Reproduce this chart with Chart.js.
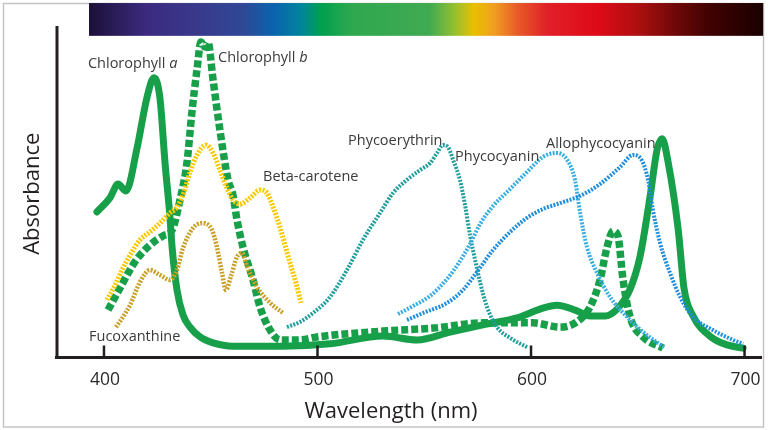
<!DOCTYPE html>
<html>
<head>
<meta charset="utf-8">
<script src="https://cdn.jsdelivr.net/npm/chart.js@4.4.0/dist/chart.umd.min.js"></script>
<style>
  html, body { margin: 0; padding: 0; background: #ffffff; }
  #wrap { width: 768px; height: 430px; }
</style>
</head>
<body>
<div id="wrap"><canvas id="c" width="768" height="430"></canvas></div>
<script>
// ---- data (wavelength nm, relative absorbance) ----
const chlAWl  = [396.7,402.8,406.6,410.3,415.5,420.1,423.4,426.2,428.6,430.9,431.9,434.2,437.0,440.3,445.0,451.1,460.4,483.8,505.9,530.7,546.6,562.1,577.5,593.4,604.2,612.2,620.6,627.6,634.7,640.3,646.4,651.1,655.8,659.1,661.4,664.2,668.9,671.7,675.9,684.3,691.8,699.3];
const chlAAbs = [43.9,48.2,52.4,50.3,63.4,78.7,84.8,78.7,58.8,42.4,33.2,20.1,12.5,8.8,5.8,4.0,3.0,3.0,3.7,6.1,4.9,7.3,9.5,11.6,14.3,15.5,14.0,12.2,12.2,14.3,20.4,30.5,48.8,63.1,66.2,59.1,38.7,20.4,12.2,5.8,3.4,2.4];

const chlBWl  = [401.9,407.5,414.5,421.5,427.6,431.9,435.6,438.9,441.2,443.6,445.4,447.3,448.7,451.1,454.3,458.1,460.4,462.3,465.1,469.8,473.1,477.8,482.5,491.8,499.8,530.7,554.1,577.5,600.9,613.6,621.5,627.6,632.3,635.6,638.4,640.7,643.1,646.4,652.5,661.8];
const chlBAbs = [14.0,20.7,28.7,33.8,36.6,38.4,47.6,59.1,74.4,87.5,95.7,94.2,95.7,84.1,68.9,53.7,49.1,41.5,33.2,23.2,14.9,7.9,4.9,4.9,5.8,7.6,8.5,10.1,10.1,8.8,10.4,14.9,23.2,33.2,38.1,36.6,23.2,11.9,5.8,2.4];

const betaWl  = [401.4,405.2,408.9,413.1,416.9,421.5,426.2,430.9,434.2,437.5,440.3,443.6,447.8,451.1,454.3,457.6,460.4,463.7,468.4,473.1,476.3,479.2,482.4,484.8,487.1,489.9,492.3];
const betaAbs = [17.1,21.6,26.8,31.7,35.4,37.8,40.5,43.6,45.4,50.0,56.1,61.3,64.3,61.9,56.7,51.2,47.6,46.3,48.2,50.6,49.7,45.4,39.3,33.8,28.4,22.3,16.2];

const fucoWl  = [405.6,408.9,412.2,416.9,421.5,426.2,430.9,434.2,437.0,441.7,445.9,450.6,452.9,455.3,457.1,459.5,462.3,464.6,467.0,471.7,477.8,483.8];
const fucoAbs = [8.8,11.9,15.5,22.6,26.2,24.7,23.2,26.2,32.9,39.0,40.5,38.4,33.2,25.3,20.1,24.4,30.2,31.4,27.4,21.0,16.2,13.1];

const pheWl   = [485.7,491.8,497.9,505.9,513.8,521.3,529.3,535.4,541.9,548.0,552.7,556.0,558.8,561.1,563.5,566.7,569.1,571.4,573.8,576.1,579.4,584.1,590.2,598.1];
const pheAbs  = [8.8,10.4,13.1,18.0,26.2,35.4,43.6,49.7,53.7,56.7,58.8,61.9,64.3,63.7,59.8,53.7,46.0,36.9,29.3,22.6,14.9,8.8,5.5,2.7];

const pcWl    = [537.7,544.7,552.7,560.7,566.7,571.4,576.1,582.2,590.2,598.1,605.6,612.2,616.9,620.6,623.0,626.2,630.9,637.0,645.0,652.5,662.8];
const pcAbs   = [12.8,15.2,18.3,23.5,28.9,34.1,40.2,45.7,50.9,56.1,60.7,61.9,59.8,53.7,43.6,33.2,25.3,18.0,11.9,7.3,2.4];

const apcWl   = [541.9,549.4,560.7,568.1,574.7,582.2,590.2,598.1,605.6,613.6,622.9,632.3,641.7,647.8,652.0,654.8,657.1,660.4,665.1,669.8,675.9,685.2,694.6,699.3];
const apcAbs  = [11.0,13.1,16.2,20.1,25.6,32.3,37.8,42.1,44.8,46.6,48.8,52.4,57.6,61.3,59.5,53.7,44.5,34.5,25.3,18.0,11.9,7.9,4.9,3.7];

const tickValues = [400, 500, 600, 700];
const tickLabels = ["400", "500", "600", "700"];

const curveLabels  = ["Chlorophyll ", "Chlorophyll ", "Beta-carotene", "Phycoerythrin", "Phycocyanin", "Allophycocyanin", "Fucoxanthine"];
const curveItalics = ["a", "b", "", "", "", "", ""];
const labelWl      = [392.5, 453.4, 474.5, 514.3, 564.4, 607.0, 393.0];
const labelAbs     = [87.8, 89.5, 53.2, 64.3, 59.3, 63.4, 4.6];

const xTitle = "Wavelength (nm)";
const yTitle = "Absorbance";

// spectrum strip (wavelength range and absorbance band above plot)
const stripWl  = [393.0, 708.7];
const stripAbs = [97.6, 107.6];

// ---- helpers ----
function pts(xs, ys) { return xs.map((x, i) => ({ x: x, y: ys[i] })); }

const GREEN = '#17a049';
const FONT = '"Open Sans", "Noto Sans", sans-serif';

const decor = {
  id: 'decor',
  beforeDraw(chart) {
    const ctx = chart.ctx;
    const xs = chart.scales.x, ys = chart.scales.y;
    ctx.save();
    ctx.fillStyle = '#ffffff';
    ctx.fillRect(0, 0, chart.width, chart.height);
    // outer frame
    ctx.strokeStyle = '#c4c4c4';
    ctx.lineWidth = 1.5;
    ctx.strokeRect(3.5, 3.5, 760, 423.5);
    // spectrum strip
    const x0 = xs.getPixelForValue(stripWl[0]), x1 = xs.getPixelForValue(stripWl[1]);
    const y0 = ys.getPixelForValue(stripAbs[1]), y1 = ys.getPixelForValue(stripAbs[0]);
    const g = ctx.createLinearGradient(x0, 0, x1, 0);
    const stops = [
      [0.00, '#1c1038'], [0.084, '#3b2a7e'], [0.156, '#39388b'], [0.229, '#2f4896'],
      [0.273, '#0a62ae'], [0.316, '#00869a'], [0.345, '#00a04e'], [0.389, '#2fa84f'],
      [0.505, '#40aa52'], [0.542, '#93bf30'], [0.571, '#e8c000'], [0.60, '#f0a020'],
      [0.636, '#e85a28'], [0.68, '#e02028'], [0.753, '#df0a18'], [0.811, '#b01010'],
      [0.869, '#700808'], [0.92, '#400202'], [1.00, '#1a0000']
    ];
    stops.forEach(s => g.addColorStop(s[0], s[1]));
    ctx.fillStyle = g;
    ctx.fillRect(x0, y0, x1 - x0, y1 - y0);
    ctx.restore();
  },
  afterDatasetsDraw(chart) {
    const ctx = chart.ctx;
    const xs = chart.scales.x, ys = chart.scales.y;
    const a = chart.chartArea;
    ctx.save();
    // axes
    ctx.strokeStyle = '#231f20';
    ctx.lineWidth = 3;
    ctx.lineCap = 'butt';
    ctx.beginPath();
    ctx.moveTo(a.left, a.top);
    ctx.lineTo(a.left, a.bottom);
    ctx.moveTo(a.left - 2, a.bottom);
    ctx.lineTo(a.right + 1, a.bottom);
    ctx.stroke();
    // inward ticks
    ctx.lineWidth = 2.5;
    ctx.beginPath();
    tickValues.forEach(v => {
      const px = xs.getPixelForValue(v);
      ctx.moveTo(px, a.bottom);
      ctx.lineTo(px, a.bottom - 12);
    });
    ctx.stroke();
    // tick labels
    ctx.fillStyle = '#2a2a2a';
    ctx.font = '17.5px ' + FONT;
    ctx.textAlign = 'center';
    ctx.textBaseline = 'alphabetic';
    tickValues.forEach((v, i) => {
      ctx.fillText(tickLabels[i], xs.getPixelForValue(v) + 1, a.bottom + 27.5);
    });
    // axis titles
    ctx.fillStyle = '#231f20';
    ctx.font = '22px ' + FONT;
    ctx.fillText(xTitle, (a.left + a.right) / 2 - 18, a.bottom + 60.5);
    ctx.save();
    ctx.translate(39, (a.top + a.bottom) / 2 + 2);
    ctx.rotate(-Math.PI / 2);
    ctx.fillText(yTitle, 0, 0);
    ctx.restore();
    // curve labels
    ctx.fillStyle = '#3a3a3a';
    ctx.textAlign = 'left';
    curveLabels.forEach((t, i) => {
      const px = xs.getPixelForValue(labelWl[i]);
      const py = ys.getPixelForValue(labelAbs[i]);
      ctx.font = '14.5px ' + FONT;
      ctx.fillText(t, px, py);
      if (curveItalics[i]) {
        const w = ctx.measureText(t).width;
        ctx.font = 'italic 14.5px ' + FONT;
        ctx.fillText(curveItalics[i], px + w, py);
      }
    });
    ctx.restore();
  }
};

const dotted = [2, 1.4];

new Chart(document.getElementById('c'), {
  type: 'line',
  data: {
    datasets: [
      { label: 'Chlorophyll a', data: pts(chlAWl, chlAAbs), borderColor: GREEN, borderWidth: 7, borderCapStyle: 'round', order: 9 },
      { label: 'Chlorophyll b', data: pts(chlBWl, chlBAbs), borderColor: GREEN, borderWidth: 7.5, borderDash: [7, 3], borderCapStyle: 'butt', order: 8 },
      { label: 'Fucoxanthine', data: pts(fucoWl, fucoAbs), borderColor: '#c9a12a', borderWidth: 4.5, borderDash: dotted, order: 7 },
      { label: 'Beta-carotene', data: pts(betaWl, betaAbs), borderColor: '#f7c900', borderWidth: 5, borderDash: dotted, order: 6 },
      { label: 'Phycoerythrin', data: pts(pheWl, pheAbs), borderColor: '#1e9e9c', borderWidth: 4, borderDash: dotted, order: 5 },
      { label: 'Phycocyanin', data: pts(pcWl, pcAbs), borderColor: '#38afe0', borderWidth: 4, borderDash: dotted, order: 4 },
      { label: 'Allophycocyanin', data: pts(apcWl, apcAbs), borderColor: '#1f8fdc', borderWidth: 4, borderDash: dotted, order: 3 }
    ]
  },
  options: {
    responsive: false,
    animation: false,
    events: [],
    devicePixelRatio: 1,
    layout: { padding: { left: 57, right: 7, top: 26, bottom: 72.5 } },
    elements: {
      point: { radius: 0 },
      line: { tension: 0.4, cubicInterpolationMode: 'monotone', fill: false, borderJoinStyle: 'round' }
    },
    scales: {
      x: { type: 'linear', min: 378, max: 707.7, display: false },
      y: { type: 'linear', min: -0.46, max: 100.6, display: false }
    },
    plugins: { legend: { display: false }, tooltip: { enabled: false } }
  },
  plugins: [decor]
});
</script>
</body>
</html>
